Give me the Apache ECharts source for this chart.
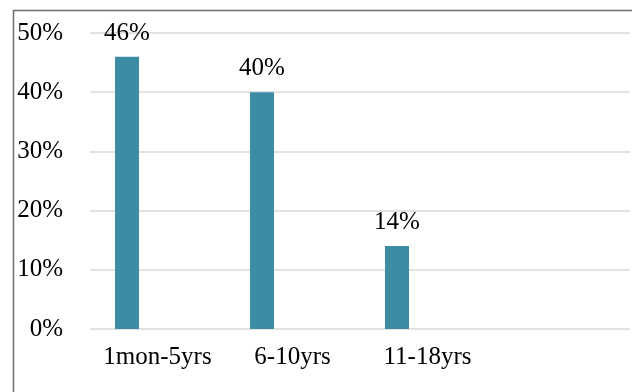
<!DOCTYPE html>
<html>
<head>
<meta charset="utf-8">
<script src="https://cdn.jsdelivr.net/npm/echarts@6/dist/echarts.min.js"></script>
<style>
html,body{margin:0;padding:0;background:#fff;}
#chart{width:632px;height:392px;}
</style>
</head>
<body>
<div id="chart"></div>
<script>
const categories = ['1mon-5yrs', '6-10yrs', '11-18yrs', ''];
const shares = [46, 40, 14, null];
const emptySeries = [null, null, null, null];
const yTicks = [0, 10, 20, 30, 40, 50];

const font = '"Liberation Serif", "Times New Roman", serif';
const chart = echarts.init(document.getElementById('chart'));
chart.setOption({
  animation: false,
  backgroundColor: '#fff',
  grid: {left: 90, right: 2, top: 33, bottom: 63, containLabel: false},
  graphic: [{
    type: 'rect', silent: true, z: 100,
    shape: {x: 13.5, y: 10.5, width: 700, height: 500},
    style: {fill: 'none', stroke: '#6e6e6e', lineWidth: 1.5}
  }],
  xAxis: {
    type: 'category',
    data: categories,
    axisLine: {show: false},
    axisTick: {show: false},
    axisLabel: {color: '#000', fontFamily: font, fontSize: 25, margin: 16, interval: 0}
  },
  yAxis: {
    type: 'value',
    min: yTicks[0], max: yTicks[yTicks.length - 1], interval: 10,
    axisLine: {show: false},
    axisTick: {show: false},
    splitLine: {lineStyle: {color: '#d9d9d9', width: 1.5}},
    axisLabel: {color: '#000', fontFamily: font, fontSize: 25, margin: 27, formatter: v => v + '%'}
  },
  series: [{
    type: 'bar',
    data: shares,
    barWidth: 24,
    barGap: '154%',
    itemStyle: {color: '#3c8ca4'},
    label: {show: true, position: 'top', distance: 11, color: '#000', fontFamily: font, fontSize: 25, formatter: p => p.value + '%'}
  }, {
    type: 'bar',
    data: emptySeries,
    barWidth: 24,
    itemStyle: {color: '#3c8ca4'}
  }]
});
</script>
</body>
</html>
